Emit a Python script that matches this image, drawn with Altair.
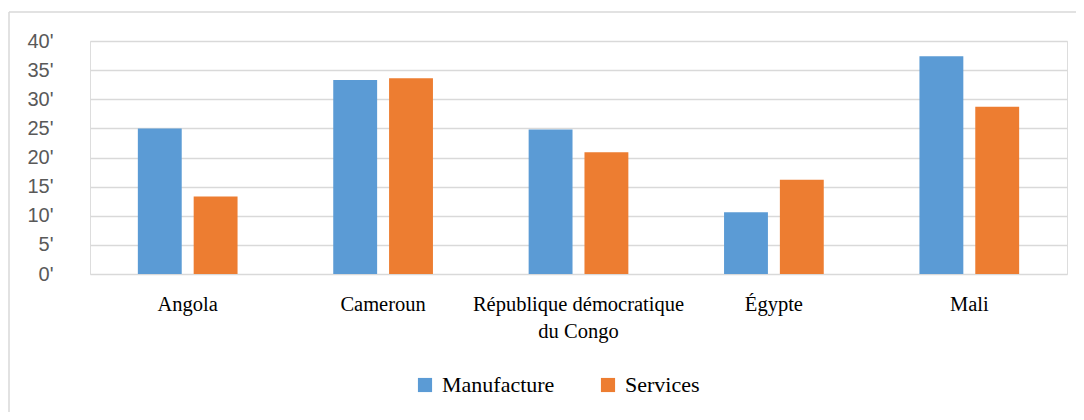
import altair as alt
import pandas as pd

countries = ["Angola", "Cameroun", "République démocratique\ndu Congo", "Égypte", "Mali"]
series = ["Manufacture", "Services"]
manufacture = [25.0, 33.3, 24.8, 10.6, 37.4]
services = [13.3, 33.6, 20.9, 16.2, 28.7]
y_ticks = [0, 5, 10, 15, 20, 25, 30, 35, 40]

rows = []
for c, m, s in zip(countries, manufacture, services):
    rows.append({"pays": c, "secteur": "Manufacture", "valeur": m})
    rows.append({"pays": c, "secteur": "Services", "valeur": s})
df = pd.DataFrame(rows)

bars = alt.Chart(df).mark_bar().encode(
    x=alt.X("pays:N", sort=countries,
            scale=alt.Scale(paddingInner=0, paddingOuter=0),
            axis=alt.Axis(title=None, labelAngle=0, domain=False, ticks=False,
                          labelFont="Liberation Serif", labelFontSize=20.5,
                          labelColor="#000000", labelPadding=20, labelLimit=400,
                          labelExpr="split(datum.label, '\\n')", labelLineHeight=27)),
    xOffset=alt.XOffset("secteur:N", sort=series,
                        scale=alt.Scale(paddingInner=0.214, paddingOuter=0.857)),
    y=alt.Y("valeur:Q", scale=alt.Scale(domain=[0, 40], nice=False),
            axis=alt.Axis(title=None, values=y_ticks, domain=False, ticks=False,
                          labelFont="Liberation Sans", labelFontSize=20,
                          labelColor="#595959", labelPadding=37,
                          labelExpr="datum.value + \"'\"",
                          gridColor="#d9d9d9", gridWidth=1.5)),
    color=alt.Color("secteur:N", sort=series,
                    scale=alt.Scale(domain=series, range=["#5b9bd5", "#ed7d31"]),
                    legend=alt.Legend(title=None, orient="none", legendX=324, legendY=333,
                                      direction="horizontal", symbolType="square",
                                      symbolSize=200, symbolStrokeWidth=0,
                                      labelFont="Liberation Serif", labelFontSize=22,
                                      labelColor="#000000", columnPadding=42,
                                      labelOffset=6)),
)

frame_top = alt.Chart(pd.DataFrame({"k": [0]})).mark_rule(color="#d9d9d9", strokeWidth=1.5).encode(
    x=alt.value(-81), x2=alt.value(1000), y=alt.value(-29))
frame_left = alt.Chart(pd.DataFrame({"k": [0]})).mark_rule(color="#d9d9d9", strokeWidth=1.5).encode(
    x=alt.value(-81), y=alt.value(-29), y2=alt.value(390))

chart = alt.layer(bars, frame_top, frame_left).properties(
    width=977, height=233,
    autosize=alt.AutoSizeParams(type="none"),
    padding={"left": 82, "top": 33, "right": 9, "bottom": 138},
).configure_view(stroke=None).configure(background="white")

chart.save("out.html", embed_options={"renderer": "svg", "actions": False})
